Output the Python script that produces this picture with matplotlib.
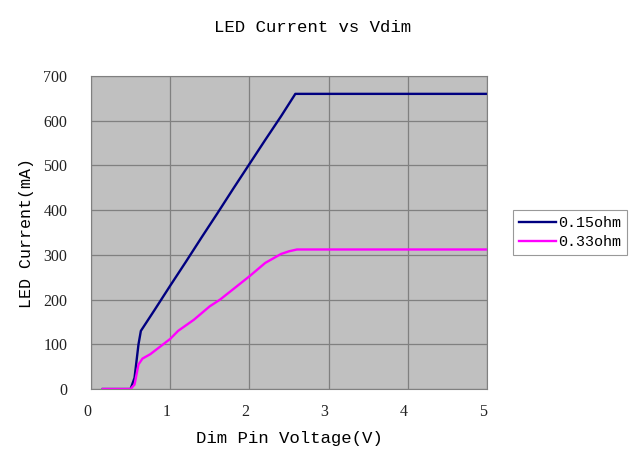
import matplotlib.pyplot as plt
import matplotlib.transforms as mtransforms

# data
vdim_015 = [0.15, 0.5, 0.55, 0.6, 0.63, 0.8, 1.0, 1.2, 1.4, 1.6, 1.8, 2.0, 2.2, 2.4, 2.58, 5.0]
led_015 = [0, 0, 25, 100, 130, 176, 231, 285, 340, 394, 449, 503, 557, 610, 660, 660]

vdim_033 = [0.15, 0.5, 0.55, 0.6, 0.65, 0.75, 1.0, 1.1, 1.3, 1.5, 1.63, 2.0, 2.2, 2.4, 2.5, 2.6, 5.0]
led_033 = [0, 0, 10, 55, 68, 78, 112, 130, 155, 185, 200, 252, 282, 302, 308, 312, 312]

series_names = ['0.15ohm', '0.33ohm']
x_ticks = [0, 1, 2, 3, 4, 5]
y_ticks = [0, 100, 200, 300, 400, 500, 600, 700]

mono = 'Liberation Mono'
serif = 'Liberation Serif'

fig = plt.figure(figsize=(6.42, 4.65), dpi=100)
ax = fig.add_axes([0.1417, 0.1634, 0.6169, 0.6732])
ax.set_facecolor('#C0C0C0')

ax.plot(vdim_015, led_015, color='#000080', lw=1.7, label=series_names[0])
ax.plot(vdim_033, led_033, color='#FF00FF', lw=1.7, label=series_names[1])

ax.set_xlim(0, 5)
ax.set_ylim(0, 700)
ax.set_xticks(x_ticks)
ax.set_yticks(y_ticks)
ax.grid(True, color='#808080', lw=0.9)
ax.set_axisbelow(True)
for s in ax.spines.values():
    s.set_color('#808080')
ax.tick_params(length=0, labelsize=11.5, colors='#222222')
ax.tick_params(axis='y', pad=17)
ax.tick_params(axis='x', pad=11)
shift = mtransforms.ScaledTranslation(-4 / 100, 0, fig.dpi_scale_trans)
for lab in ax.get_xticklabels():
    lab.set_family(serif)
    lab.set_transform(lab.get_transform() + shift)
for lab in ax.get_yticklabels():
    lab.set_family(serif)

ax.set_xlabel('Dim Pin Voltage(V)', family=mono, fontsize=12.5, labelpad=8)
ax.set_ylabel('LED Current(mA)', family=mono, fontsize=12, labelpad=7)
fig.text(0.4875, 0.94, 'LED Current vs Vdim', family=mono, fontsize=12.5, ha='center', va='center')

leg = ax.legend(loc='center left', bbox_to_anchor=(1.065, 0.5), frameon=True, fancybox=False,
                prop={'family': mono, 'size': 10.8}, handlelength=2.5, borderpad=0.4,
                labelspacing=0.35, handletextpad=0.1, borderaxespad=0)
leg.get_frame().set_edgecolor('#808080')
leg.get_frame().set_linewidth(0.8)

fig.savefig('out.png', dpi=100)
